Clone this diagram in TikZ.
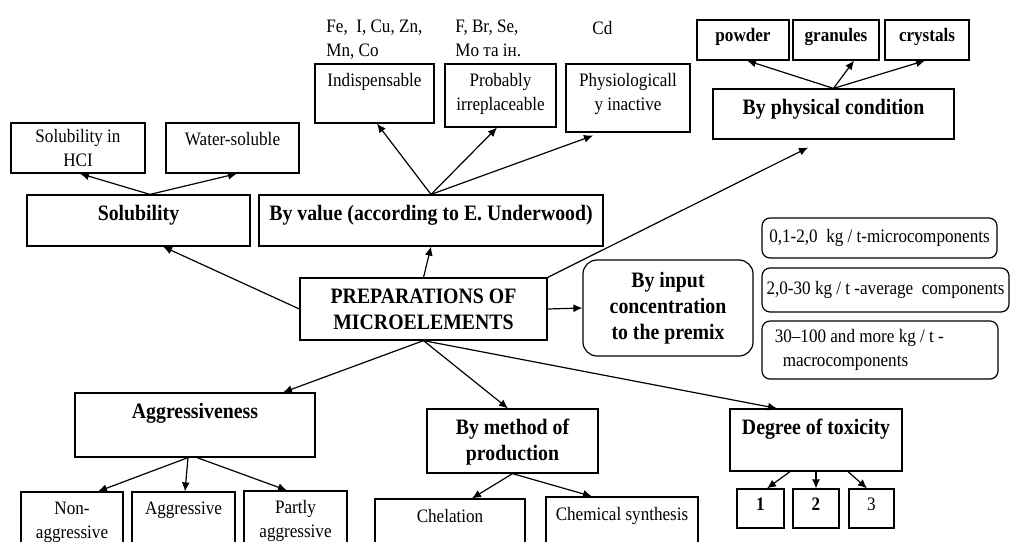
\documentclass[tikz,border=0pt]{standalone}
\usepackage{fontspec}
\setmainfont{Liberation Serif}[FakeStretch=0.9]
\usetikzlibrary{positioning,calc,arrows.meta}

\tikzset{
  box/.style={draw, line width=0.6pt, inner sep=0pt},
  rbox/.style={box, rounded corners=4pt},
  lbl/.style={inner sep=0pt, align=center, font=\fontsize{9.5}{12}\selectfont},
  blbl/.style={lbl, font=\fontsize{11}{13}\selectfont\bfseries},
  sblbl/.style={lbl, font=\fontsize{9.5}{12}\selectfont\bfseries},
  arr/.style={-{Latex[length=4.5pt,width=4pt]}, line width=0.6pt},
}

\begin{document}
\begin{tikzpicture}[x=0.5pt,y=-0.5pt]
    \useasboundingbox (0,0) rectangle (1010,541);
    %definitions
    \node[box, blbl, minimum width=123.5pt, minimum height=31pt] (centre) at (423.5,309) {PREPARATIONS OF\\MICROELEMENTS};
    % solubility
    \node[box, minimum width=111.5pt, minimum height=25.5pt] (solub) at (138.5,220.5) {};
    \node[blbl, below=5pt of solub.north] (solub-t) {Solubility};
    \node[box, lbl, minimum width=67pt, minimum height=25pt] (hcl) at (78,148) {Solubility in\\HCI};
    \node[box, minimum width=66.5pt, minimum height=25pt] (water) at (232.5,148) {};
    \node[lbl, below=5pt of water.north] (water-t) {Water-soluble};
    % by value
    \node[box, minimum width=172pt, minimum height=25.5pt] (value) at (431,220.5) {};
    \node[blbl, below=5pt of value.north] (value-t) {By value (according to E. Underwood)};
    \node[box, minimum width=59.5pt, minimum height=29.5pt] (indisp) at (374.5,93.5) {};
    \node[lbl, below=5pt of indisp.north] (indisp-t) {Indispensable};
    \node[box, minimum width=55.5pt, minimum height=31.5pt] (prob) at (500.5,95.5) {};
    \node[lbl, below=5pt of prob.north] (prob-t) {Probably\\irreplaceable};
    \node[box, minimum width=62pt, minimum height=34pt] (physio) at (628,98) {};
    \node[lbl, below=5pt of physio.north] (physio-t) {Physiologicall\\y inactive};
    \node[lbl, align=left, anchor=north west] (fe) at (326,20) {Fe,\ \ I, Cu, Zn,\\Mn, Co};
    \node[lbl, align=left, anchor=north west] (br) at (455,20) {F, Br, Se,\\Mo та ін.};
    \node[lbl, anchor=north west] (cd) at (592,21) {Cd};
    % physical condition
    \node[box, minimum width=120.5pt, minimum height=25pt] (phys) at (833.5,114) {};
    \node[blbl, below=5pt of phys.north] (phys-t) {By physical condition};
    \node[box, minimum width=46pt, minimum height=20pt] (powder) at (743,40) {};
    \node[sblbl, below=4.5pt of powder.north] (powder-t) {powder};
    \node[box, minimum width=43pt, minimum height=20pt] (granules) at (836,40) {};
    \node[sblbl, below=4.5pt of granules.north] (granules-t) {granules};
    \node[box, minimum width=42pt, minimum height=20pt] (crystals) at (927,40) {};
    \node[sblbl, below=4.5pt of crystals.north] (crystals-t) {crystals};
    % input concentration
    \node[rbox, blbl, rounded corners=7pt, minimum width=85pt, minimum height=48pt] (input) at (668,308) {By input\\concentration\\to the premix};
    \node[rbox, lbl, minimum width=117.5pt, minimum height=20pt] (micro) at (879.5,238) {0,1-2,0\ \ kg / t-microcomponents};
    \node[rbox, lbl, minimum width=123.5pt, minimum height=22pt] (avg) at (885.5,290) {2,0-30 kg / t -average\ \ components};
    \node[rbox, minimum width=118pt, minimum height=29pt] (macro) at (880,350) {};
    \node[lbl, align=left, right=6.5pt of macro.west] (macro-t) {30--100 and more kg / t -\\\hspace*{4pt}macrocomponents};
    % aggressiveness
    \node[box, minimum width=120pt, minimum height=32pt] (aggr) at (195,425) {};
    \node[blbl, below=5pt of aggr.north] (aggr-t) {Aggressiveness};
    \node[box, minimum width=51pt, minimum height=34pt] (nonagg) at (72,526) {};
    \node[lbl, below=5pt of nonagg.north] (nonagg-t) {Non-\\aggressive};
    \node[box, minimum width=51.5pt, minimum height=34pt] (aggrv) at (183.5,526) {};
    \node[lbl, below=5pt of aggrv.north] (aggrv-t) {Aggressive};
    \node[box, minimum width=51.5pt, minimum height=34.5pt] (partly) at (295.5,525.5) {};
    \node[lbl, below=5pt of partly.north] (partly-t) {Partly\\aggressive};
    % method of production
    \node[box, minimum width=85.5pt, minimum height=32pt] (method) at (512.5,441) {};
    \node[blbl, below=5pt of method.north] (method-t) {By method of\\production};
    \node[box, minimum width=75pt, minimum height=30.5pt] (chel) at (450,529.5) {};
    \node[lbl, below=5.5pt of chel.north] (chel-t) {Chelation};
    \node[box, minimum width=76pt, minimum height=31.5pt] (chem) at (622,528.5) {};
    \node[lbl, below=5.5pt of chem.north] (chem-t) {Chemical synthesis};
    % toxicity
    \node[box, minimum width=86pt, minimum height=31pt] (tox) at (816,440) {};
    \node[blbl, below=5pt of tox.north] (tox-t) {Degree of toxicity};
    \node[box, minimum width=23.5pt, minimum height=19.5pt] (t1) at (760.5,508.5) {};
    \node[sblbl, below=4.5pt of t1.north] (t1-t) {1};
    \node[box, minimum width=23pt, minimum height=19.5pt] (t2) at (816,508.5) {};
    \node[sblbl, below=4.5pt of t2.north] (t2-t) {2};
    \node[box, minimum width=22.5pt, minimum height=19.5pt] (t3) at (871.5,508.5) {};
    \node[lbl, below=4.5pt of t3.north] (t3-t) {3};
    %drawing
    \draw[arr] (centre.west) -- ($(solub.south)+(24.5,0)$);
    \draw[arr] (centre.north) -- (value.south);
    \draw[arr] (centre.north east) -- ($(phys.south)+(-25.5,8)$);
    \draw[arr] (centre.east) -- (input.west);
    \draw[arr] (centre.south) -- ($(aggr.north)+(88,0)$);
    \draw[arr] (centre.south) -- ($(method.north)+(-4.5,0)$);
    \draw[arr] (centre.south) -- ($(tox.north)+(-39,0)$);
    \draw[arr] ($(solub.north)+(11.5,0)$) -- ($(hcl.south)+(2,0)$);
    \draw[arr] ($(solub.north)+(11.5,0)$) -- ($(water.south)+(4.5,0)$);
    \draw[arr] (value.north) -- ($(indisp.south)+(2.5,0)$);
    \draw[arr] (value.north) -- ($(prob.south)+(-3.5,0)$);
    \draw[arr] (value.north) -- ($(physio.south)+(-35,3)$);
    \draw[arr] (phys.north) -- ($(powder.south)+(4,0)$);
    \draw[arr] (phys.north) -- ($(granules.south)+(18,0)$);
    \draw[arr] (phys.north) -- ($(crystals.south)+(-2,0)$);
    \draw[arr] ($(aggr.south)+(-7,0)$) -- ($(nonagg.north)+(26,0)$);
    \draw[arr] ($(aggr.south)+(-7,0)$) -- ($(aggrv.north)+(1.5,0)$);
    \draw[arr] ($(aggr.south)+(2,0)$) -- ($(partly.north)+(-8.5,0)$);
    \draw[arr] (method.south) -- ($(chel.north)+(22,0)$);
    \draw[arr] (method.south) -- ($(chem.north)+(-30,0)$);
    \draw[arr] ($(tox.south)+(-26,0)$) -- ($(t1.north)+(6.5,0)$);
    \draw[arr] (tox.south) -- (t2.north);
    \draw[arr] ($(tox.south)+(32,0)$) -- ($(t3.north)+(-4.5,0)$);
\end{tikzpicture}
\end{document}
